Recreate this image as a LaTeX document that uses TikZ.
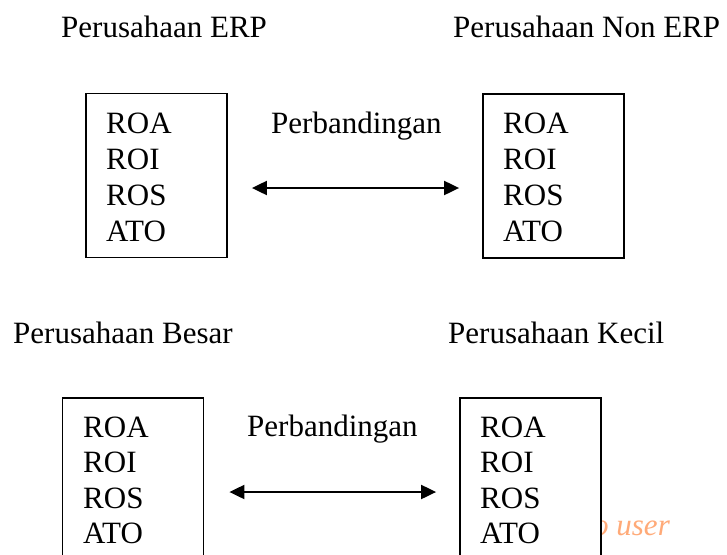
\documentclass[tikz,border=0pt]{standalone}
\usepackage{fontspec}
\setmainfont{Liberation Serif}
\usetikzlibrary{arrows.meta}
\definecolor{wmorange}{RGB}{255,170,120}
\tikzset{
  box/.style={draw, line width=1.8pt, fill=white, rectangle, inner sep=0pt, minimum width=141pt},
  lbl/.style={anchor=base west, inner sep=0pt, font=\fontsize{31}{36}\selectfont},
  arr/.style={line width=2pt, {Triangle[length=15pt,width=14pt]}-{Triangle[length=15pt,width=14pt]}},
  wm/.style={anchor=base east, inner sep=0pt, text=wmorange, font=\fontsize{31}{36}\selectfont\itshape}
}
\begin{document}
\begin{tikzpicture}[x=1pt,y=-1pt]
\clip (0,0) rectangle (727,554);
\fill[white] (0,0) rectangle (727,554);
% watermark (partly covered by box)
\node[wm] (wm) at (670,535) {to user};
% titles
\node[lbl] (t1) at (61,37) {Perusahaan ERP};
\node[lbl] (t2) at (453,37) {Perusahaan Non ERP};
\node[lbl] (t3) at (13,343) {Perusahaan Besar};
\node[lbl] (t4) at (448,343) {Perusahaan Kecil};
% boxes
\node[box, minimum height=164pt] (b1) at (156.5,175.5) {};
\node[box, minimum height=164pt] (b2) at (553.5,176) {};
\node[box, minimum height=170pt] (b3) at (133,483) {};
\node[box, minimum height=170pt] (b4) at (530.5,483) {};
% texts in boxes
\node[lbl] (b1a) at (106,133) {ROA};
\node[lbl] (b1b) at (106,169) {ROI};
\node[lbl] (b1c) at (106,205) {ROS};
\node[lbl] (b1d) at (106,241) {ATO};
\node[lbl] (b2a) at (503,133) {ROA};
\node[lbl] (b2b) at (503,169) {ROI};
\node[lbl] (b2c) at (503,205) {ROS};
\node[lbl] (b2d) at (503,241) {ATO};
\node[lbl] (b3a) at (83,437) {ROA};
\node[lbl] (b3b) at (83,472) {ROI};
\node[lbl] (b3c) at (83,508) {ROS};
\node[lbl] (b3d) at (83,543) {ATO};
\node[lbl] (b4a) at (480,437) {ROA};
\node[lbl] (b4b) at (480,472) {ROI};
\node[lbl] (b4c) at (480,508) {ROS};
\node[lbl] (b4d) at (480,543) {ATO};
% comparison labels
\node[lbl] (p1) at (271,133) {Perbandingan};
\node[lbl] (p2) at (247,436) {Perbandingan};
% arrows
\draw[arr, shorten <=24pt, shorten >=23pt] ([yshift=-12.5pt]b1.east) -- ([yshift=-12pt]b2.west);
\draw[arr, shorten <=25pt, shorten >=23pt] ([yshift=-9pt]b3.east) -- ([yshift=-9pt]b4.west);
\end{tikzpicture}
\end{document}
